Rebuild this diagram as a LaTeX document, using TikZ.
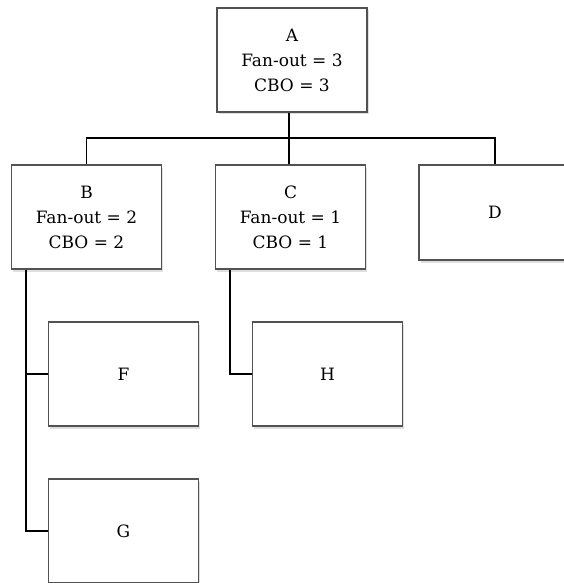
\documentclass[tikz,border=0pt]{standalone}
\usepackage{fontspec}
\setmainfont{DejaVu Serif}
\usetikzlibrary{shadows}
\tikzset{
  box/.style={draw=black!68, line width=1.7pt, fill=white, minimum width=150pt, minimum height=104pt,
    inner sep=0pt, align=center, font=\fontsize{17}{25}\selectfont,
    drop shadow={opacity=0.25, shadow xshift=1.5pt, shadow yshift=-2.5pt}},
  link/.style={draw=black, line width=1.8pt}
}
\begin{document}
\begin{tikzpicture}[x=1pt,y=-1pt]
\useasboundingbox (0,0) rectangle (564,583);
\begin{scope}
\clip (0,0) rectangle (564,583);
\node[box] (A) at (292,60) {A\\Fan-out = 3\\CBO = 3};
\node[box] (B) at (86.5,217) {B\\Fan-out = 2\\CBO = 2};
\node[box] (C) at (290.5,217) {C\\Fan-out = 1\\CBO = 1};
\node[box, minimum height=95pt, minimum width=152pt] (D) at (495,212.5) {D};
\node[box] (F) at (123.5,374) {F};
\node[box] (G) at (123.5,531) {G};
\node[box] (H) at (327.5,374) {H};
\coordinate (bus) at (289,138);
\draw[link] (bus |- A.south) -- (bus);
\draw[link] (B.north) |- (bus);
\draw[link] (D.north) |- (bus);
\draw[link] (bus |- C.north) -- (bus);
\coordinate (bstem) at (26,0);
\draw[link] (bstem |- B.south) |- (F.west);
\draw[link] (bstem |- B.south) |- (G.west);
\coordinate (cstem) at (230,0);
\draw[link] (cstem |- C.south) |- (H.west);
\end{scope}
\end{tikzpicture}
\end{document}
